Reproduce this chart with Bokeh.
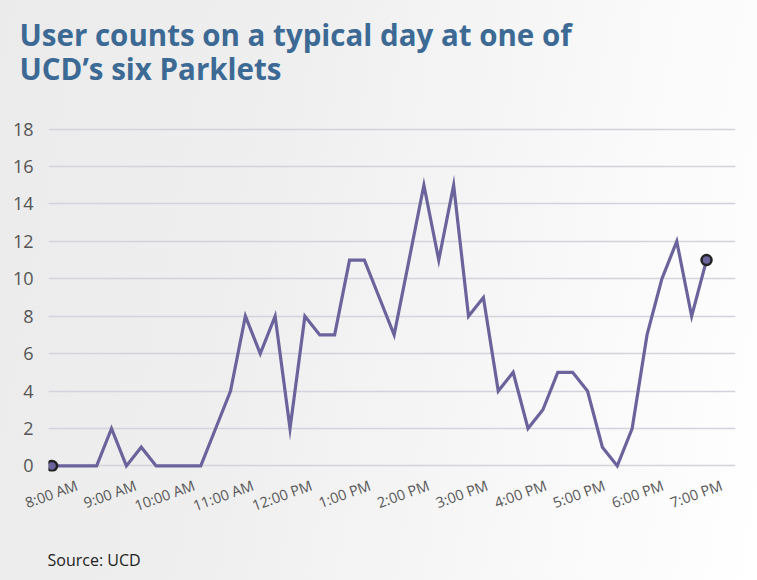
import math
from bokeh.plotting import figure
from bokeh.models import ColumnDataSource, Range1d, FixedTicker, Title, LinearAxis
from bokeh.embed import file_html
from bokeh.resources import INLINE

# ---- data ----
start_hour = 8.0
step_hours = 0.25
users = [0, 0, 0, 0, 2, 0, 1, 0, 0, 0, 0, 2, 4, 8, 6, 8, 2, 8, 7, 7, 11, 11, 9, 7,
         11, 15, 11, 15, 8, 9, 4, 5, 2, 3, 5, 5, 4, 1, 0, 2, 7, 10, 12, 8, 11]
times = [start_hour + step_hours * i for i in range(len(users))]

tick_hours = [8, 9, 10, 11, 12, 13, 14, 15, 16, 17, 18, 19]
tick_labels = ["8:00 AM", "9:00 AM", "10:00 AM", "11:00 AM", "12:00 PM", "1:00 PM",
               "2:00 PM", "3:00 PM", "4:00 PM", "5:00 PM", "6:00 PM", "7:00 PM"]
y_ticks = [0, 2, 4, 6, 8, 10, 12, 14, 16, 18]

title_text = "User counts on a typical day at one of\nUCD\u2019s six Parklets"
source_text = "Source: UCD"

LINE_COLOR = "#6b649c"
TITLE_COLOR = "#3c6a94"
FONT = "Open Sans"

p = figure(
    frame_width=687, frame_height=348,
    min_border_left=48, min_border_right=22, min_border_top=123, min_border_bottom=109,
    x_range=Range1d(7.941, 19.487), y_range=Range1d(-0.3, 18.3),
    output_backend="svg", toolbar_location=None, x_axis_type=None,
)
p.background_fill_alpha = 0
p.border_fill_alpha = 0
p.outline_line_color = None
p.styles = {"background": "linear-gradient(100deg, #ebebeb 0%, #efefef 35%, #f8f8f8 70%, #ffffff 100%)"}

# x axis: rotated hour labels on their own label range (labels sit centred
# under the hours, as in the original)
p.extra_x_ranges = {"labels": Range1d(7.5137, 19.2372)}
xaxis = LinearAxis(x_range_name="labels")
xaxis.ticker = FixedTicker(ticks=tick_hours)
xaxis.major_label_overrides = {h: t for h, t in zip(tick_hours, tick_labels)}
xaxis.major_label_orientation = math.radians(20)
xaxis.major_label_standoff = 7
xaxis.axis_line_color = None
xaxis.major_tick_line_color = None
xaxis.minor_tick_line_color = None
xaxis.major_label_text_font = FONT
xaxis.major_label_text_font_size = "14.5px"
xaxis.major_label_text_color = "#555555"
p.add_layout(xaxis, "below")
p.xgrid.visible = False

# y axis
p.yaxis.ticker = FixedTicker(ticks=y_ticks)
p.yaxis.axis_line_color = None
p.yaxis.major_tick_line_color = None
p.yaxis.minor_tick_line_color = None
p.yaxis.major_label_standoff = 9
p.yaxis.major_label_text_font = FONT
p.yaxis.major_label_text_font_size = "18px"
p.yaxis.major_label_text_color = "#555555"
p.ygrid.ticker = FixedTicker(ticks=y_ticks)
p.ygrid.grid_line_color = "#d3d3db"
p.ygrid.grid_line_width = 1.5

# line
src = ColumnDataSource(dict(t=times, u=users))
p.line("t", "u", source=src, line_color=LINE_COLOR, line_width=3.2, line_join="miter")

# endpoints
ends = ColumnDataSource(dict(t=[times[0], times[-1]], u=[users[0], users[-1]]))
p.scatter("t", "u", source=ends, size=10, fill_color=LINE_COLOR,
          line_color="#222222", line_width=2.5)

# spacer between frame and title, then the two-line title above it
p.add_layout(Title(text=" ", text_font=FONT, text_font_size="1px",
                   standoff=24.5), "above")
p.add_layout(Title(text=title_text, text_font=FONT, text_font_style="bold",
                   text_font_size="29.5px", text_line_height=0.85,
                   text_color=TITLE_COLOR, align="left", offset=-29,
                   standoff=12), "above")
p.add_layout(Title(text=source_text, text_font=FONT, text_font_style="normal",
                   text_font_size="16px", text_color="#222222", align="left",
                   offset=-1, standoff=41), "below")

open("out.html", "w").write(file_html(p, INLINE))
